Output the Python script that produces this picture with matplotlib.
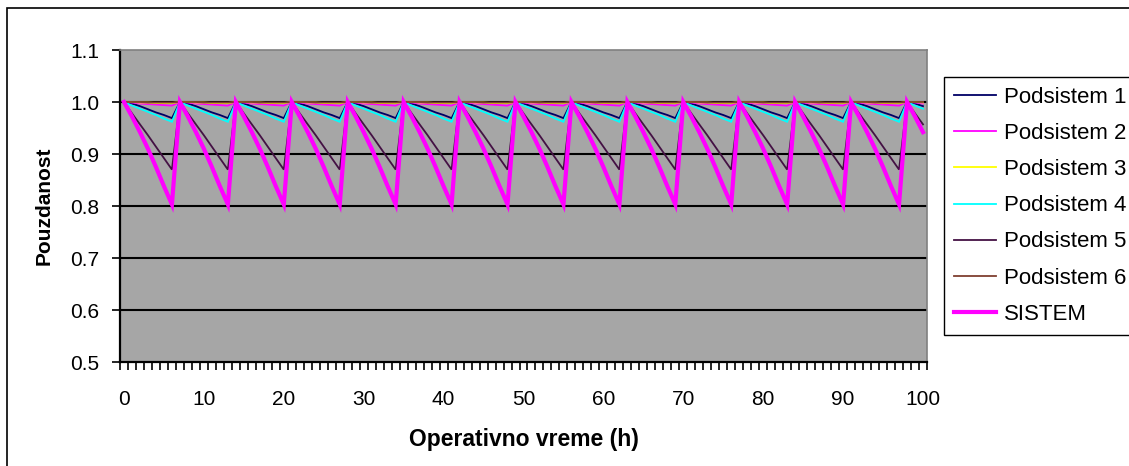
import numpy as np
import matplotlib
matplotlib.use("Agg")
import matplotlib.pyplot as plt
from matplotlib.patches import Rectangle

plt.rcParams['font.family'] = ['Liberation Sans', 'DejaVu Sans']

# ---- data ----
hours = list(range(0, 101))            # operating time categories (h)
x_tick_labels = [str(v) for v in range(0, 101, 10)]
y_ticks = [0.5, 0.6, 0.7, 0.8, 0.9, 1.0, 1.1]

# one maintenance cycle (reset every 7 h), values at 0..6 h within the cycle
cyc_p1 = [1.000, 0.997, 0.992, 0.986, 0.980, 0.975, 0.969]
cyc_p2 = [1.000, 0.999, 0.997, 0.996, 0.995, 0.994, 0.993]
cyc_p3 = [1.000, 1.000, 0.999, 0.999, 0.998, 0.998, 0.998]
cyc_p4 = [1.000, 0.993, 0.987, 0.981, 0.975, 0.968, 0.962]
cyc_p5 = [1.000, 0.978, 0.957, 0.936, 0.914, 0.892, 0.870]
cyc_p6 = [1.000, 1.000, 1.000, 0.999, 0.999, 0.999, 0.999]
cyc_sis = [1.000, 0.972, 0.942, 0.910, 0.875, 0.838, 0.803]

n = len(hours)
podsistem1 = (cyc_p1 * 15)[:n]
podsistem2 = (cyc_p2 * 15)[:n]
podsistem3 = (cyc_p3 * 15)[:n]
podsistem4 = (cyc_p4 * 15)[:n]
podsistem5 = (cyc_p5 * 15)[:n]
podsistem6 = (cyc_p6 * 15)[:n]
sistem = (cyc_sis * 15)[:n]

labels = ['Podsistem 1', 'Podsistem 2', 'Podsistem 3', 'Podsistem 4',
          'Podsistem 5', 'Podsistem 6', 'SISTEM']
colors = ['#000066', '#FF00FF', '#FFFF00', '#00FFFF', '#441144', '#7F3F30', '#FF00FF']
widths = [1.3, 1.3, 1.3, 1.3, 1.3, 1.3, 3.0]

W, H = 1129, 466
fig = plt.figure(figsize=(W / 100, H / 100), dpi=100)
fig.patch.set_facecolor('white')

# outer chart border
fig.add_artist(Rectangle((7 / W, -0.1), 1.2, 1.1 - 8 / H, transform=fig.transFigure,
                         fill=False, edgecolor='black', linewidth=1.2))

ax = fig.add_axes([120 / W, (H - 362) / H, (927 - 120) / W, (362 - 50) / H])
ax.set_facecolor('#A6A6A6')

xpos = np.arange(n)
series = [podsistem1, podsistem2, podsistem3, podsistem4, podsistem5, podsistem6, sistem]
for s, lab, c, lw in zip(series, labels, colors, widths):
    ax.plot(xpos, s, color=c, linewidth=lw, label=lab, solid_joinstyle='miter', zorder=3)

ax.set_xlim(-0.5, n - 0.5)
ax.set_ylim(0.5, 1.1)

# gridlines
for yv in y_ticks[1:-1]:
    ax.axhline(yv, color='black', linewidth=1.5, zorder=2)

ax.set_yticks(y_ticks)
ax.set_yticklabels([f'{v:.1f}' for v in y_ticks])
ax.set_xticks(np.arange(0, n, 10))
ax.set_xticklabels(x_tick_labels)
ax.set_xticks(np.arange(-0.5, n, 1.0), minor=True)
ax.tick_params(axis='x', which='major', length=0, pad=20, labelsize=15)
ax.tick_params(axis='x', which='minor', length=6, width=1.2, direction='out')
ax.tick_params(axis='y', which='major', length=6, width=1.2, pad=9, labelsize=15)

for side in ['left', 'bottom']:
    ax.spines[side].set_color('black')
    ax.spines[side].set_linewidth(1.6)
for side in ['top', 'right']:
    ax.spines[side].set_color('#808080')
    ax.spines[side].set_linewidth(1.2)

ax.set_xlabel('Operativno vreme (h)', fontsize=16.5, fontweight='bold', labelpad=14)
ax.set_ylabel('Pouzdanost', fontsize=15, fontweight='bold', labelpad=12)

leg = ax.legend(loc='upper left', bbox_to_anchor=(944 / W, 1 - 77 / H),
                bbox_transform=fig.transFigure, fontsize=16, frameon=True,
                fancybox=False, framealpha=1, edgecolor='black',
                handlelength=1.9, handletextpad=0.35, labelspacing=0.68,
                borderpad=0.45, borderaxespad=0)
leg.get_frame().set_linewidth(1.0)

fig.savefig('out.png', dpi=100)
